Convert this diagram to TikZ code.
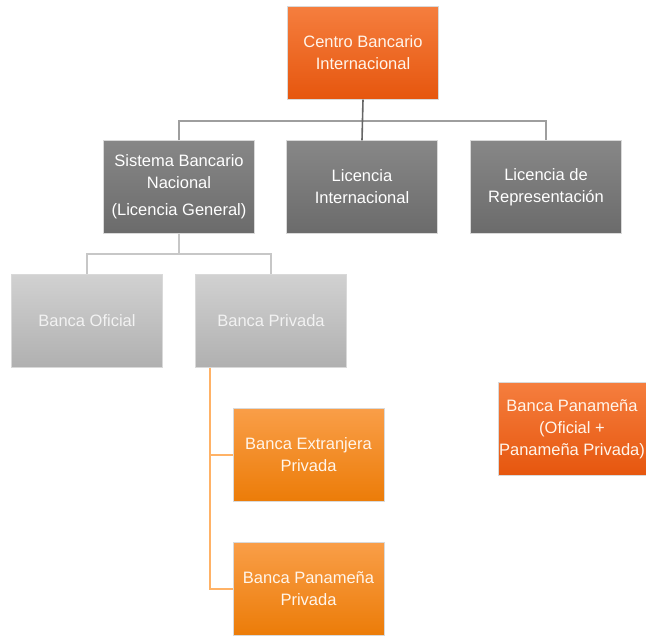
\documentclass[tikz,border=0pt]{standalone}
\usepackage{fontspec}
\setmainfont{Liberation Sans}
\definecolor{rtop}{RGB}{245,126,62}
\definecolor{rbot}{RGB}{230,86,14}
\definecolor{otop}{RGB}{249,158,72}
\definecolor{obot}{RGB}{236,124,8}
\begin{document}
\begin{tikzpicture}[x=1pt,y=-1pt,
  box/.style={minimum width=#1, minimum height=93pt, inner sep=1pt, align=center,
     text=white, font=\fontsize{16.5}{22}\selectfont, draw=white!85!black, line width=0.4pt},
  box/.default=151pt,
  redbox/.style={box=#1, top color=rtop, bottom color=rbot, text=white!92!orange},
  redbox/.default=151pt,
  darkbox/.style={box, top color=black!47, bottom color=black!58},
  lightbox/.style={box, top color=black!18, bottom color=black!31, text=white!95!black},
  orbox/.style={box, top color=otop, bottom color=obot, text=white!92!orange},
  gline/.style={draw=black!38, line width=1.6pt},
  trunk/.style={draw=black!60, line width=1.6pt},
  lgline/.style={draw=black!22, line width=1.6pt},
  oline/.style={draw=orange!60!white, line width=1.4pt}
]
\useasboundingbox (0,0) rectangle (646,637);
\node[redbox] (cbi) at (363,53) {Centro Bancario\\Internacional};
\node[darkbox] (sbn) at (179,187) {Sistema Bancario\\Nacional\\[5pt](Licencia General)};
\node[darkbox] (li) at (362,187) {Licencia\\Internacional};
\node[darkbox] (lr) at (546,187) {Licencia de\\Representación};
\node[lightbox] (bo) at (87,321) {Banca Oficial};
\node[lightbox] (bp) at (271,321) {Banca Privada};
\node[orbox] (bep) at (308.5,455) {Banca Extranjera\\Privada};
\node[orbox] (bpp) at (308.5,589) {Banca Panameña\\Privada};
\node[redbox=148pt] (bpan) at (572,429) {Banca Panameña\\(Oficial +\\Panameña Privada)};
\coordinate (j1) at (363,121);
\coordinate (j2) at (179,254);
\draw[gline] (sbn.north) |- (lr.north |- j1) -- (lr.north);
\draw[trunk] (cbi.south) -- (li.north);
\draw[lgline] (bo.north) |- (bp.north |- j2) -- (bp.north);
\draw[lgline] (sbn.south) -- (j2);
\coordinate (ot) at (210,368);
\draw[oline] (bp.south -| ot) |- (bpp.west);
\draw[oline] (ot |- bep.west) -- (bep.west);
\end{tikzpicture}
\end{document}
